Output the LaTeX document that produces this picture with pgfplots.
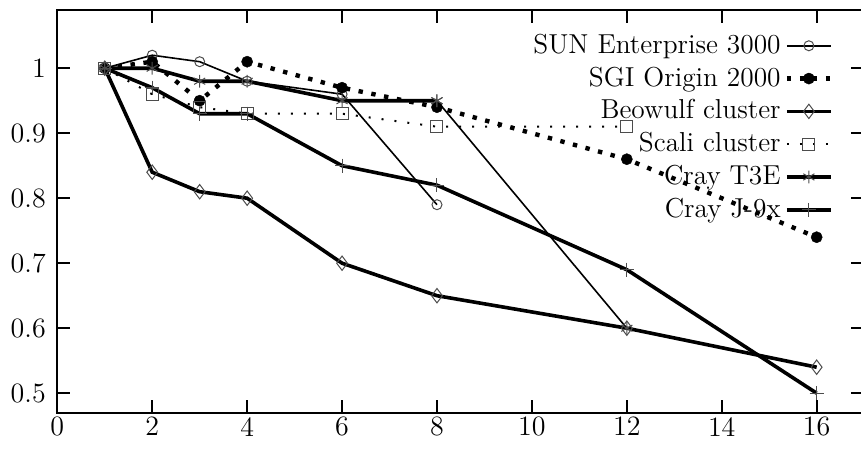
\documentclass[border=0pt]{standalone}
\usepackage{pgfplots}
\pgfplotsset{compat=1.18}
\begin{document}
\fontsize{13.7}{16}\selectfont
\begin{tikzpicture}
\begin{axis}[
  at={(0,0)}, anchor=south west,
  x=23.73pt, y=325pt,
  xmin=0, xmax=17, ymin=0.47, ymax=1.089,
  axis line style={line width=1pt},
  every tick/.style={line width=1pt, black},
  major tick length=6.5pt,
  tick align=inside,
  xtick={0,2,4,6,8,10,12,14,16},
  ytick={0.5,0.6,0.7,0.8,0.9,1},
  yticklabels={0.5,0.6,0.7,0.8,0.9,1},
  /pgf/number format/assume math mode=true,
  tick label style={font=\fontsize{14}{16}\selectfont},
  yticklabel style={xshift=-1pt},
  xticklabel style={yshift=2.5pt},
  legend plot pos=right,
  legend cell align=right,
  legend style={draw=none, fill=none, at={(0.962,0.952)}, anchor=north east,
    inner sep=0pt, row sep=0.7pt, font=\fontsize{13.7}{16}\selectfont,
    nodes={inner sep=2pt}},
  legend image code/.code={\draw[mark repeat=2, mark phase=2] plot coordinates {(0pt,0pt) (11pt,0pt) (22pt,0pt)};},
  mark options={solid},
]
\addplot[black, line width=0.8pt, mark=o, mark size=2.5pt, mark options={draw=black!70, line width=0.5pt, solid}]
  coordinates {(1,1)(2,1.02)(3,1.01)(4,0.98)(6,0.96)(8,0.79)};
\addlegendentry{SUN Enterprise 3000}
\addplot[black, line width=2.2pt, dash pattern=on 2.2pt off 4.3pt, mark=*, mark size=2.8pt, mark options={black, solid, line width=0.2pt}]
  coordinates {(1,1)(2,1.01)(3,0.95)(4,1.01)(6,0.97)(8,0.94)(12,0.86)(16,0.74)};
\addlegendentry{SGI Origin 2000}
\addplot[black, line width=1.8pt, mark=diamond, mark size=3.6pt, mark options={draw=black!70, line width=0.5pt, solid}]
  coordinates {(1,1)(2,0.84)(3,0.81)(4,0.80)(6,0.70)(8,0.65)(12,0.60)(16,0.54)};
\addlegendentry{Beowulf cluster}
\addplot[black, line width=1pt, dash pattern=on 1pt off 5.5pt, mark=square, mark size=3pt, mark options={draw=black!70, line width=0.5pt, solid}]
  coordinates {(1,1)(2,0.96)(3,0.94)(4,0.93)(6,0.93)(8,0.91)(12,0.91)};
\addlegendentry{Scali cluster}
\addplot[black, line width=1.8pt, mark=asterisk, mark size=3.2pt, mark options={draw=black!70, line width=0.5pt, solid}]
  coordinates {(1,1)(2,1.0)(3,0.98)(4,0.98)(6,0.95)(8,0.95)};
\addlegendentry{Cray T3E}
\addplot[black, line width=1.8pt, mark=+, mark size=3.5pt, mark options={draw=black!70, line width=0.5pt, solid}]
  coordinates {(1,1)(2,0.97)(3,0.93)(4,0.93)(6,0.85)(8,0.82)(12,0.69)(16,0.50)};
\addlegendentry{Cray J-9x}
\addplot[black, line width=0.8pt, mark=asterisk, mark size=3.2pt, mark options={draw=black!70, line width=0.5pt, solid}, forget plot]
  coordinates {(8,0.95)(12,0.60)};
\end{axis}
\pgfresetboundingbox
\path (-28.65pt,-19.65pt) rectangle (401.85pt,206.35pt);
\end{tikzpicture}
\end{document}
